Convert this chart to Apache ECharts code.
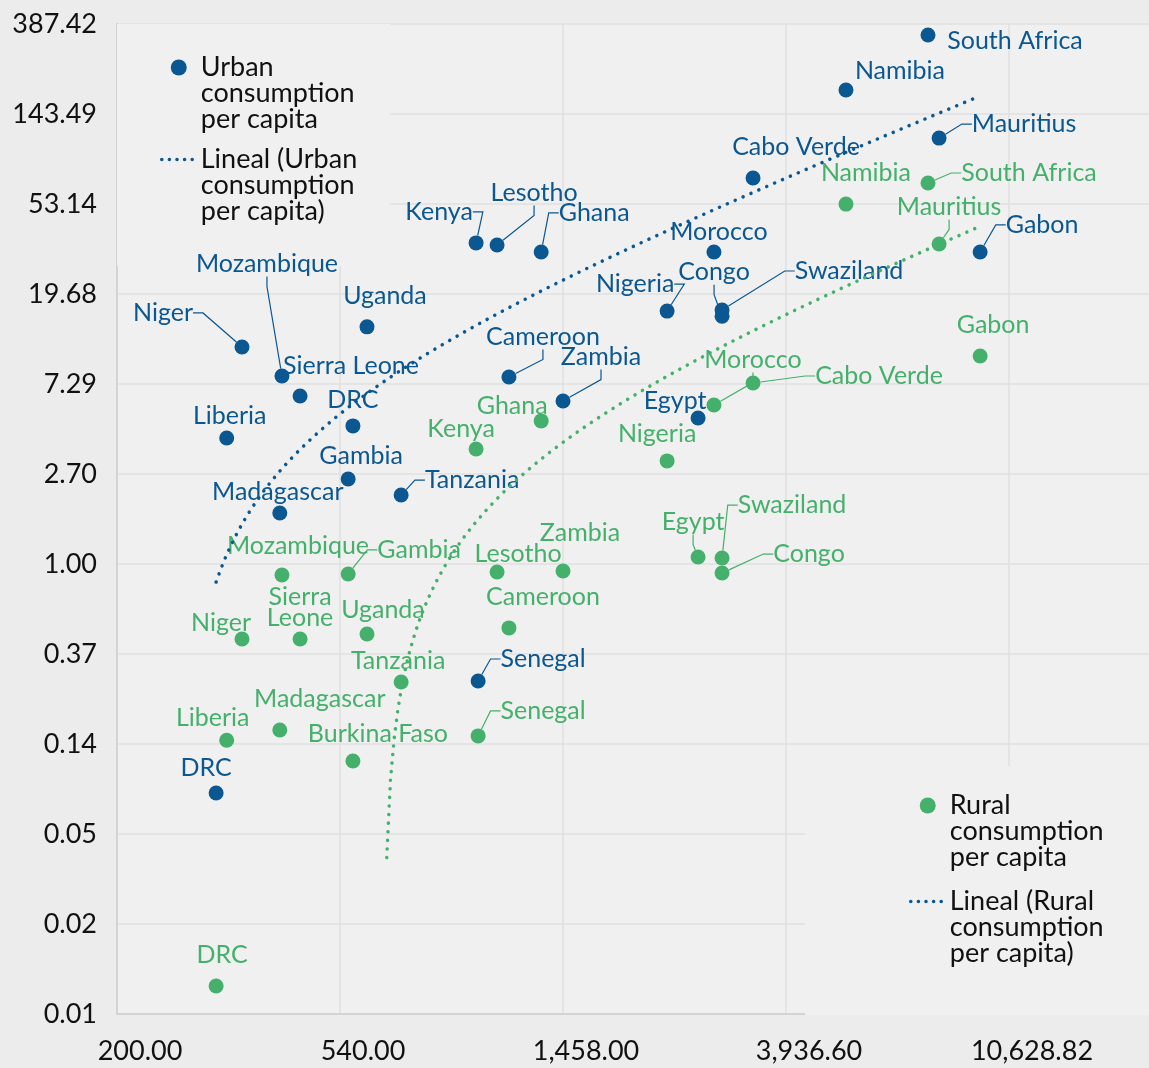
<!DOCTYPE html>
<html>
<head>
<meta charset="utf-8">
<script src="https://cdn.jsdelivr.net/npm/echarts@6/dist/echarts.min.js"></script>
<style>
  html, body { margin: 0; padding: 0; background: #ececec; }
  #chart { width: 1149px; height: 1068px; }
</style>
</head>
<body>
<div id="chart"></div>
<script>
// x: shared per country, y: consumption per capita (urban / rural)
const countries = ['South Africa', 'Namibia', 'Mauritius', 'Cabo Verde', 'Gabon', 'Morocco', 'Kenya', 'Lesotho',
  'Ghana', 'Nigeria', 'Congo', 'Swaziland', 'Uganda', 'Niger', 'Mozambique', 'Sierra Leone', 'Cameroon', 'Zambia',
  'Egypt', 'Burkina Faso', 'Liberia', 'Gambia', 'Tanzania', 'Madagascar', 'Senegal', 'DRC']
const xValues = [7410, 5142, 7785, 3399, 9346, 2856, 990, 1087,
  1323, 2318, 2961, 2961, 609, 349, 417, 452, 1146, 1458,
  2661, 572, 326, 560, 709, 413, 999, 311]
const urbanValues = [343, 187, 110, 70.8, 31.3, 31.3, 34.6, 33.8,
  31.3, 16.3, 15.4, 16.5, 13.7, 10.97, 7.96, 6.39, 7.88, 6.04,
  5.01, 4.59, 4.02, 2.556, 2.14, 1.755, 0.275, 0.0799]
const ruralValues = [67.0, 53.1, 34.2, 7.37, 9.93, 5.78, 3.56, 0.915,
  4.85, 3.12, 0.905, 1.068, 0.462, 0.437, 0.886, 0.437, 0.494, 0.926,
  1.08, 0.1137, 0.143, 0.896, 0.272, 0.160, 0.150, 0.0095]
const urbanLabels = ['South Africa', 'Namibia', 'Mauritius', 'Cabo Verde', 'Gabon', 'Morocco', 'Kenya', 'Lesotho',
  'Ghana', 'Nigeria', 'Congo', 'Swaziland', 'Uganda', 'Niger', 'Mozambique', 'Sierra Leone', 'Cameroon', 'Zambia',
  'Egypt', 'DRC', 'Liberia', 'Gambia', 'Tanzania', 'Madagascar', 'Senegal', 'DRC']
const ruralLabels = ['South Africa', 'Namibia', 'Mauritius', 'Cabo Verde', 'Gabon', 'Morocco', 'Kenya', 'Lesotho',
  'Ghana', 'Nigeria', 'Congo', 'Swaziland', 'Uganda', 'Niger', 'Mozambique', 'Sierra\nLeone', 'Cameroon', 'Zambia',
  'Egypt', 'Burkina Faso', 'Liberia', 'Gambia', 'Tanzania', 'Madagascar', 'Senegal', 'DRC']

// axis ticks: 200 * 2.7^k on x, 2.7^k on y
const X_BASE = 200
const LOG_BASE = 2.7
const xTickCount = [0, 5]
const yTickCount = [-5, 6]
const ruralTrendFrom = 665 // trendline is negative below this

const BLUE = '#0b5792'
const GREEN = '#45b06b'
const FONT = 'Lato'

// label placement (offset of label centre from point), and which labels have a leader line
const urbanLabelOffset = {
  'South Africa': [87, 6], 'Namibia': [54, -19], 'Mauritius': [85, -14], 'Cabo Verde': [43, -31],
  'Gabon': [62, -27], 'Morocco': [5, -20], 'Kenya': [-37, -31], 'Lesotho': [37, -52], 'Ghana': [53, -39],
  'Nigeria': [-32, -27], 'Congo': [-8, -44], 'Swaziland': [127, -39], 'Uganda': [18, -31], 'Niger': [-79, -34],
  'Mozambique': [-15, -112], 'Sierra Leone': [51, -30], 'Cameroon': [34, -40], 'Zambia': [38, -44],
  'Egypt': [-23, -17], 'Burkina Faso': [0, -26], 'Liberia': [3, -22], 'Gambia': [13, -23],
  'Tanzania': [71, -15], 'Madagascar': [-2, -21], 'Senegal': [65, -22], 'DRC': [-10, -25]
}
const urbanLeaders = ['Mauritius', 'Gabon', 'Kenya', 'Lesotho', 'Ghana', 'Nigeria', 'Congo', 'Swaziland',
  'Niger', 'Mozambique', 'Cameroon', 'Zambia', 'Tanzania', 'Senegal']
const ruralLabelOffset = {
  'South Africa': [101, -10], 'Namibia': [20, -31], 'Mauritius': [10, -37], 'Gabon': [13, -31],
  'Cabo Verde': [126, -7], 'Morocco': [39, -45], 'Ghana': [-29, -15], 'Kenya': [-15, -20],
  'Nigeria': [-10, -27], 'Egypt': [-5, -35], 'Swaziland': [70, -53], 'Congo': [87, -19],
  'Zambia': [17, -38], 'Lesotho': [21, -18], 'Gambia': [71, -24], 'Mozambique': [16, -29],
  'Cameroon': [34, -31], 'Uganda': [16, -24], 'Niger': [-21, -16], 'Sierra Leone': [0, -32],
  'Tanzania': [-3, -21], 'Madagascar': [40, -31], 'Liberia': [-14, -22], 'Senegal': [65, -25],
  'Burkina Faso': [25, -27], 'DRC': [6, -31]
}
const ruralLeaders = ['South Africa', 'Mauritius', 'Cabo Verde', 'Morocco', 'Egypt', 'Swaziland', 'Congo',
  'Gambia', 'Senegal']

// two leading blank lines keep the icon level with the first text line
const legendText = {
  'Urban consumption per capita': '\n\nUrban\nconsumption\nper capita',
  'Lineal (Urban consumption per capita)': '\n\nLineal (Urban\nconsumption\nper capita)',
  'Rural consumption per capita': '\n\nRural\nconsumption\nper capita',
  'Lineal (Rural consumption per capita)': '\n\nLineal (Rural\nconsumption\nper capita)'
}

function lx(v) { return Math.log(v / X_BASE) / Math.log(LOG_BASE) }
function ly(v) { return Math.log(v) / Math.log(LOG_BASE) }

function fmtX(k) {
  return (X_BASE * Math.pow(LOG_BASE, Math.round(k))).toLocaleString('en-US', { minimumFractionDigits: 2, maximumFractionDigits: 2 })
}
function fmtY(k) {
  return Math.pow(LOG_BASE, Math.round(k)).toFixed(2)
}

// least squares, like Excel's linear trendline
function fitLine(xs, ys) {
  const n = xs.length
  const mx = xs.reduce((a, b) => a + b, 0) / n
  const my = ys.reduce((a, b) => a + b, 0) / n
  let sxy = 0, sxx = 0
  for (let i = 0; i < n; i++) {
    sxy += (xs[i] - mx) * (ys[i] - my)
    sxx += (xs[i] - mx) * (xs[i] - mx)
  }
  const b = sxy / sxx
  return { a: my - b * mx, b }
}

function trendPoints(fit, from, to, steps) {
  const pts = []
  for (let i = 0; i <= steps; i++) {
    const x = from * Math.pow(to / from, i / steps)
    const y = fit.a + fit.b * x
    if (y > 0) pts.push([lx(x), ly(y)])
  }
  return pts
}

function pointData(values, labels, offsets, leaders) {
  return xValues.map((x, i) => ({
    name: labels[i],
    value: [lx(x), ly(values[i])],
    label: { offset: offsets[countries[i]] },
    labelLine: { show: leaders.includes(countries[i]) }
  }))
}

function scatterSeries(name, color, data) {
  return {
    name,
    type: 'scatter',
    symbol: 'circle',
    symbolSize: 15,
    itemStyle: { color, opacity: 1 },
    z: 2,
    label: {
      show: true,
      formatter: '{b}',
      position: ['50%', '50%'],
      align: 'center',
      verticalAlign: 'middle',
      color,
      fontFamily: FONT,
      fontSize: 25,
      lineHeight: 21,
      textBorderWidth: 0
    },
    labelLine: { show: false, length2: 10, smooth: false, lineStyle: { width: 1.2, color, opacity: 1 } },
    emphasis: { disabled: true },
    data
  }
}

function trendSeries(name, color, data) {
  return {
    name,
    type: 'line',
    symbol: 'none',
    z: 3,
    silent: true,
    lineStyle: { color, width: 3.5, type: [0.1, 8.5], cap: 'round' },
    data
  }
}

function legendFor(names, lineColor, pos) {
  return {
    orient: 'vertical',
    left: pos.left,
    top: pos.top,
    padding: pos.padding,
    itemGap: pos.gap,
    itemWidth: 34,
    itemHeight: 16,
    z: 1,
    selectedMode: false,
    backgroundColor: '#f0f0f0',
    formatter: n => legendText[n],
    textStyle: { fontFamily: FONT, fontSize: 27, lineHeight: 26, color: '#111' },
    data: [
      { name: names[0], icon: 'circle', itemStyle: { opacity: 1 } },
      {
        name: names[1],
        itemStyle: { color: 'rgba(0,0,0,0)', borderWidth: 0 },
        lineStyle: { color: lineColor, width: 3.5, type: [0.1, 7.5], cap: 'round' }
      }
    ]
  }
}

const urbanFit = fitLine(xValues, urbanValues)
const ruralFit = fitLine(xValues, ruralValues)
const xMin = Math.min(...xValues)
const xMax = Math.max(...xValues)

const axisLabelStyle = { fontFamily: FONT, fontSize: 27, color: '#111' }

const option = {
  backgroundColor: '#ececec',
  animation: false,
  grid: {
    left: 117, top: 24, width: 1115, height: 990,
    show: true, backgroundColor: '#f0f0f0', borderWidth: 0,
    outerBoundsMode: 'none'
  },
  xAxis: {
    type: 'value',
    min: xTickCount[0],
    max: xTickCount[1],
    interval: 1,
    axisLine: { show: true, onZero: false, lineStyle: { color: '#d3d3d3', width: 2 } },
    axisTick: { show: false },
    splitLine: { show: true, lineStyle: { color: '#e0e0e0', width: 1.5 } },
    axisLabel: { ...axisLabelStyle, formatter: fmtX, margin: 24, padding: [0, 0, 0, 46] }
  },
  yAxis: {
    type: 'value',
    min: yTickCount[0],
    max: yTickCount[1],
    interval: 1,
    axisLine: { show: true, onZero: false, lineStyle: { color: '#d3d3d3', width: 2 } },
    axisTick: { show: false },
    splitLine: { show: true, lineStyle: { color: '#e0e0e0', width: 1.5 } },
    axisLabel: { ...axisLabelStyle, formatter: fmtY, margin: 20 }
  },
  legend: [
    legendFor(['Urban consumption per capita', 'Lineal (Urban consumption per capita)'], BLUE,
      { left: 117, top: 24, padding: [-22, 33, 41, 43], gap: -39 }),
    legendFor(['Rural consumption per capita', 'Lineal (Rural consumption per capita)'], BLUE,
      { left: 805, top: 766, padding: [-26, 60, 48, 104], gap: -35 })
  ],
  series: [
    scatterSeries('Urban consumption per capita', BLUE,
      pointData(urbanValues, urbanLabels, urbanLabelOffset, urbanLeaders)),
    scatterSeries('Rural consumption per capita', GREEN,
      pointData(ruralValues, ruralLabels, ruralLabelOffset, ruralLeaders)),
    trendSeries('Lineal (Urban consumption per capita)', BLUE, trendPoints(urbanFit, xMin, xMax, 160)),
    trendSeries('Lineal (Rural consumption per capita)', GREEN, trendPoints(ruralFit, ruralTrendFrom, xMax, 160))
  ]
}

const chart = echarts.init(document.getElementById('chart'))
chart.setOption(option)
</script>
</body>
</html>
